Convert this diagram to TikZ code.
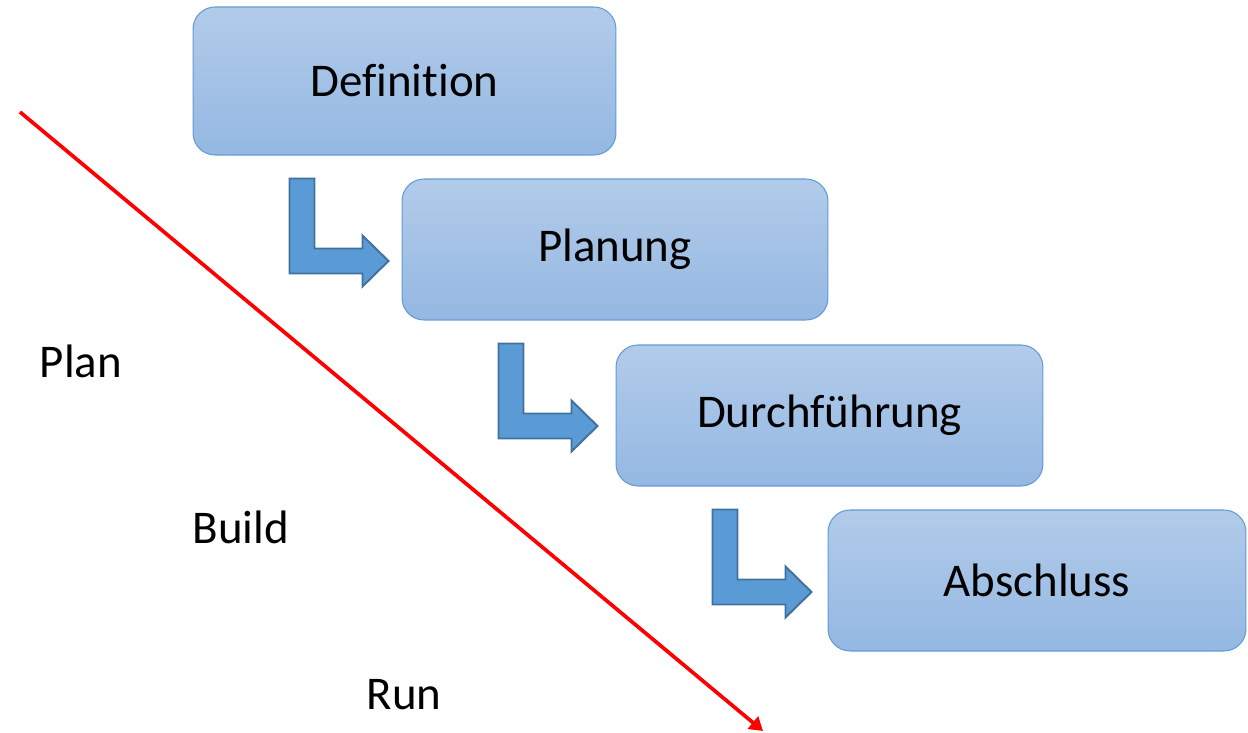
\documentclass[tikz,border=0pt]{standalone}
\usepackage{fontspec}
\setmainfont[Ligatures=NoCommon]{Carlito}
\usetikzlibrary{arrows.meta}

\definecolor{boxtop}{RGB}{178,203,234}
\definecolor{boxbot}{RGB}{148,184,226}
\definecolor{boxline}{RGB}{100,155,212}
\definecolor{bentfill}{RGB}{91,155,213}
\definecolor{bentline}{RGB}{65,113,156}

\tikzset{
  phase/.style={draw=boxline, line width=0.6pt, rounded corners=0.44cm,
    top color=boxtop, bottom color=boxbot, inner sep=0pt,
    font=\fontsize{26.7}{32}\selectfont},
  label/.style={font=\fontsize{26.7}{32}\selectfont},
  bent/.style={fill=bentfill, draw=bentline, line width=1.1pt, line join=miter}
}

\begin{document}
\begin{tikzpicture}[x=0.02cm, y=-0.02cm]
\useasboundingbox (0,0) rectangle (1248,733);

% phases
\node[phase, minimum width=8.46cm, minimum height=2.96cm] (def) at (404.5,81) {Definition};
\node[phase, minimum width=8.52cm, minimum height=2.82cm] (plan) at (615,249.5) {Planung};
\node[phase, minimum width=8.54cm, minimum height=2.82cm] (durch) at (829.5,415.5) {Durchführung};
\node[phase, minimum width=8.36cm, minimum height=2.82cm] (absch) at (1037,580.5) {Abschluss};

% bent arrows between phases
\foreach \a in {def, plan, durch}{
  \begin{scope}[shift={(\a.south west)}]
    \draw[bent] (97,23) -- (122,23) -- (122,93) -- (170,93) -- (170,80)
      -- (196,105.5) -- (170,131) -- (170,118) -- (97,118) -- cycle;
  \end{scope}
}

% red line
\coordinate (redstart) at (20,112);
\coordinate (redend) at (763,731);
\draw[red, line width=2.1pt, -{Triangle[length=7.5pt, width=9pt]}] (redstart) -- (redend);

\node[label] (plantxt) at (81,361) {Plan};
\node[label] (buildtxt) at (241,527) {Build};
\node[label] (runtxt) at (404,695) {Run};
\end{tikzpicture}
\end{document}
